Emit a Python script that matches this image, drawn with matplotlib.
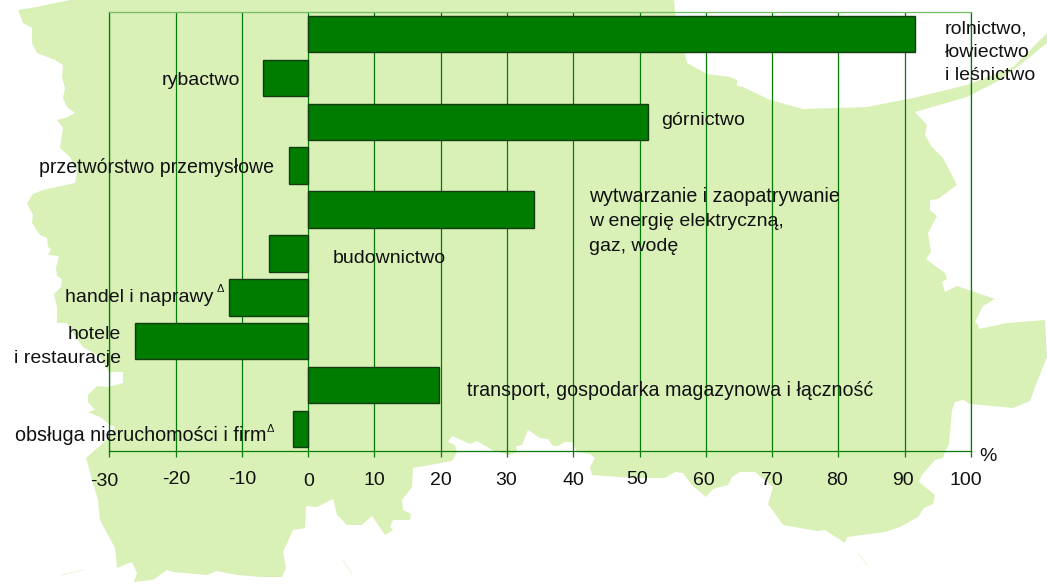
import matplotlib
matplotlib.use("Agg")
import matplotlib.pyplot as plt
import matplotlib.transforms as mt
from matplotlib.patches import Polygon

W, H = 1047, 587
plt.rcParams['font.family'] = ['Liberation Sans', 'DejaVu Sans']

categories = ["rolnictwo, łowiectwo i leśnictwo", "rybactwo", "górnictwo", "przetwórstwo przemysłowe",
              "wytwarzanie i zaopatrywanie w energię elektryczną, gaz, wodę", "budownictwo",
              "handel i naprawy", "hotele i restauracje",
              "transport, gospodarka magazynowa i łączność", "obsługa nieruchomości i firm"]
values = [91.6, -6.8, 51.2, -2.9, 34.0, -5.9, -11.9, -26.1, 19.8, -2.3]
x_ticks = [-30, -20, -10, 0, 10, 20, 30, 40, 50, 60, 70, 80, 90, 100]

# decorative background map outline, image pixels
map_outline = [
    (70,0),(50,4),(37,7),(18,10),(23,23),(32,28),(32,43),(37,53),(55,60),(63,65),(62,77),(65,88),(63,98),(67,107),
    (75,113),(68,117),(57,120),(63,128),(60,148),(70,157),(77,173),(75,183),(43,190),(33,194),(27,203),(33,215),
    (32,223),(40,235),(47,238),(48,247),(51,249),(48,255),(59,256),(56,268),(57,276),(62,279),(61,287),(54,294),
    (57,307),(57,323),(67,323),(73,333),(83,347),(100,357),(109,372),(123,372),(123,383),(108,387),(97,386),(88,395),
    (88,402),(95,410),(88,412),(100,417),(110,425),(115,427),(110,437),(86,458),(98,500),(100,520),(115,548),(117,568),
    (132,562),(137,573),(134,582),(153,580),(167,570),(173,572),(207,575),(217,571),(237,575),(260,577),(282,577),
    (286,568),(283,552),(293,530),(305,528),(306,506),(317,507),(333,499),(337,515),(347,525),(362,525),(372,516),
    (385,535),(393,530),(390,527),(393,520),(410,520),(411,514),(403,510),(402,500),(412,487),(413,468),(452,461),
    (457,452),(455,445),(448,442),(452,436),(470,444),(477,441),(492,450),(510,455),(517,452),(516,446),(522,445),
    (528,430),(540,438),(548,439),(553,446),(558,446),(565,442),(572,442),(577,452),(590,454),(595,458),(590,467),
    (592,475),(633,478),(665,478),(675,472),(683,473),(692,485),(706,497),(713,489),(728,485),(732,477),(740,472),
    (755,472),(773,487),(768,504),(783,525),(817,531),(825,530),(845,543),(847,537),(885,532),(900,527),(918,517),
    (924,508),(933,504),(935,495),(919,482),(922,475),(935,460),(943,458),(945,452),(949,444),(952,410),(955,402),
    (963,400),(970,404),(1013,408),(1030,401),(1035,387),(1047,357),(1045,320),(1007,323),(979,329),(978,325),(975,322),
    (983,306),(995,299),(957,286),(945,292),(942,282),(947,279),(945,273),(926,259),(931,252),(928,233),(937,216),
    (930,210),(930,200),(938,199),(957,185),(943,158),(932,147),(925,135),(927,125),(915,112),(967,97),(1000,80),
    (1030,57),(1047,43),(1047,33),(1013,67),(967,85),(913,98),(867,107),(837,108),(803,109),(770,100),(743,87),
    (737,86),(737,80),(730,77),(707,74),(687,63),(685,53),(675,12),(674,0)]

fig = plt.figure(figsize=(W / 100, H / 100), dpi=100, facecolor='white')

bg = fig.add_axes([0, 0, 1, 1], zorder=0)
bg.set_xlim(0, W)
bg.set_ylim(H, 0)
bg.axis('off')
bg.add_patch(Polygon(map_outline, closed=True, facecolor='#d9f1b6', edgecolor='none'))
for seg in [[(62, 575), (83, 570)], [(343, 560), (352, 574)], [(859, 554), (867, 565)]]:
    bg.plot(*zip(*seg), color='#eef8dc', lw=0.8)

left, right, top, bottom = 109.3, 971.0, 12.0, 451.0
ax = fig.add_axes([left / W, 1 - bottom / H, (right - left) / W, (bottom - top) / H], zorder=1)
ax.patch.set_alpha(0)
green = '#067a06'

pos = list(range(len(values)))
ax.barh(pos, values, height=0.83, color='#007c00', edgecolor='#143c14', linewidth=1.0, zorder=3)
ax.set_ylim(len(values) - 0.5, -0.5)
ax.set_xlim(-30, 100)
ax.set_yticks([])
ax.set_xticks(x_ticks)
ax.set_xticklabels([str(t) for t in x_ticks], fontsize=14, color='#111111')
ax.tick_params(axis='x', length=4.3, width=0.9, color=green, pad=10.6)
ax.xaxis.grid(True, color=green, lw=0.9, zorder=1)
ax.set_axisbelow(True)
for s in ax.spines.values():
    s.set_color(green)
    s.set_linewidth(0.9)
    s.set_zorder(2)
ax.spines['top'].set_color('#74bd66')

# individual tick label nudges seen in the reference
nudges = {-30: (-5, -1), -20: (1, 1), -10: (0, 1), 0: (1, -1), 10: (0, 0), 20: (0, 0), 30: (-1, 0),
          40: (0, 0), 50: (-2, 1), 60: (-2, 0), 70: (0, 0), 80: (-1, 0), 90: (-2, 0), 100: (-5, 0)}
for t, lab in zip(x_ticks, ax.get_xticklabels()):
    dx, dy = nudges[t]
    lab.set_transform(lab.get_transform() + mt.Affine2D().translate(dx, dy))


def label(text, x, y, ha='left', size=14):
    fig.text(x / W, 1 - (y + 1.5) / H, text, ha=ha, va='center', fontsize=size, color='#111111', zorder=5)


label("rolnictwo,", 945, 27)
label("łowiectwo", 945, 51)
label("i leśnictwo", 945, 74)
label(categories[1], 240, 79, ha='right')
label(categories[2], 661, 119)
label(categories[3], 274, 166, ha='right', size=14.05)
label("wytwarzanie i zaopatrywanie", 589, 195, size=14.1)
label("w energię elektryczną,", 589, 220)
label("gaz, wodę", 589, 245)
label(categories[5], 333, 257)
label(categories[6], 65, 296)
label("Δ", 220, 288, ha='center', size=8)
label("hotele", 121, 333, ha='right')
label("i restauracje", 121, 357, ha='right')
label(categories[8], 467, 389, size=14.15)
label(categories[9], 15, 434, size=14.2)
label("Δ", 270, 427, ha='center', size=8)
label("%", 979, 455)

fig.savefig('out.png', dpi=100, facecolor='white')
